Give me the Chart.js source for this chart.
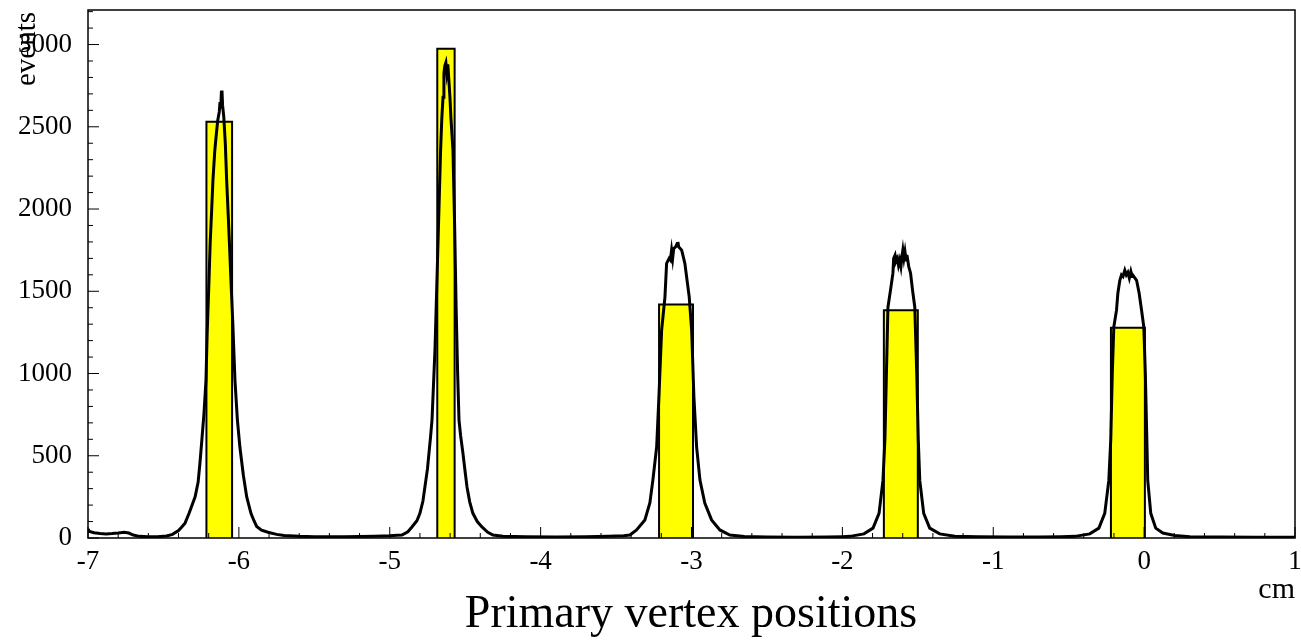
<!DOCTYPE html>
<html>
<head>
<meta charset="utf-8">
<script src="https://cdn.jsdelivr.net/npm/chart.js@4/dist/chart.umd.min.js"></script>
<style>
    body { margin: 0; background: #fff; }
    canvas { display: block; }
</style>
</head>
<body>
<canvas id="vertexChart" width="1301" height="641"></canvas>
<script>
// fine-binned vertex distribution (cm, events)
const curveX = [
    -7.00, -6.99, -6.96, -6.92, -6.88, -6.84, -6.80, -6.76, -6.73, -6.70, -6.66, -6.60, -6.54, -6.48, -6.44, -6.40, -6.38,
    -6.357, -6.33, -6.31, -6.29, -6.27, -6.258, -6.245, -6.231, -6.218, -6.21, -6.198, -6.19, -6.18, -6.172, -6.16, -6.15,
    -6.14, -6.13, -6.125, -6.12, -6.116, -6.112, -6.108, -6.10, -6.09, -6.081, -6.07, -6.062, -6.054, -6.04, -6.026, -6.01,
    -5.993, -5.97, -5.948, -5.92, -5.90, -5.882, -5.85, -5.807, -5.75, -5.70, -5.60, -5.50, -5.40, -5.30, -5.20, -5.10,
    -5.00, -4.95, -4.919, -4.88, -4.853, -4.82, -4.80, -4.78, -4.767, -4.75, -4.74, -4.73, -4.72, -4.70, -4.68, -4.663,
    -4.655, -4.647, -4.641, -4.635, -4.628, -4.622, -4.615, -4.608, -4.601, -4.595, -4.588, -4.581, -4.57, -4.56, -4.55,
    -4.541, -4.53, -4.515, -4.50, -4.488, -4.47, -4.449, -4.42, -4.389, -4.35, -4.316, -4.25, -4.10, -3.90, -3.70, -3.55,
    -3.45, -3.408, -3.364, -3.309, -3.276, -3.256, -3.231, -3.216, -3.198, -3.176, -3.165, -3.148, -3.140, -3.132, -3.125,
    -3.118, -3.105, -3.095, -3.090, -3.085, -3.075, -3.065, -3.044, -3.015, -2.999, -2.984, -2.966, -2.944, -2.912, -2.867,
    -2.812, -2.746, -2.65, -2.50, -2.30, -2.10, -2.00, -1.950, -1.857, -1.797, -1.757, -1.731, -1.718, -1.708, -1.698,
    -1.681, -1.665, -1.660, -1.651, -1.645, -1.635, -1.628, -1.62, -1.612, -1.605, -1.599, -1.592, -1.585, -1.578, -1.572,
    -1.56, -1.548, -1.535, -1.520, -1.507, -1.497, -1.487, -1.461, -1.421, -1.355, -1.255, -1.10, -0.90, -0.70, -0.55,
    -0.459, -0.360, -0.300, -0.261, -0.234, -0.221, -0.211, -0.201, -0.183, -0.174, -0.161, -0.150, -0.140, -0.128, -0.118,
    -0.108, -0.098, -0.088, -0.080, -0.075, -0.050, -0.033, -0.017, -0.002, 0.008, 0.018, 0.024, 0.044, 0.077, 0.124,
    0.203, 0.303, 0.50, 0.75, 1.00
];
const curveY = [
    55, 40, 32, 28, 25, 27, 30, 35, 30, 18, 10, 8, 8, 12, 22, 45, 65,
    90, 150, 200, 250, 340, 456, 600, 760, 960, 1250, 1567, 1800, 2000, 2175, 2350, 2450,
    2540, 2590, 2650, 2610, 2710, 2720, 2630, 2560, 2400, 2175, 1950, 1780, 1600, 1300, 960, 720,
    550, 380, 250, 150, 105, 70, 48, 35, 22, 15, 10, 8, 7, 8, 9, 11,
    13, 16, 18, 38, 67, 105, 150, 225, 310, 420, 516, 610, 717, 1150, 1800, 2357,
    2550, 2680, 2825, 2870, 2890, 2830, 2880, 2780, 2680, 2560, 2460, 2357, 1900, 1400, 1000,
    717, 620, 516, 400, 310, 220, 150, 100, 67, 35, 18, 10, 7, 6, 7, 10,
    14, 18, 49, 110, 213, 352, 553, 857, 1264, 1465, 1670, 1700, 1690, 1750, 1700,
    1760, 1770, 1790, 1800, 1770, 1760, 1750, 1670, 1465, 1264, 857, 553, 352, 213, 110,
    49, 18, 9, 6, 5, 6, 8, 10, 25, 60, 150, 350, 600, 1000, 1403,
    1507, 1610, 1700, 1719, 1680, 1700, 1659, 1690, 1650, 1710, 1750, 1700, 1740, 1690, 1720,
    1650, 1610, 1507, 1403, 1000, 600, 350, 150, 60, 25, 10, 7, 6, 6, 8,
    10, 25, 60, 150, 350, 600, 1000, 1282, 1385, 1488, 1567, 1600, 1590, 1628, 1600,
    1615, 1580, 1620, 1590, 1598, 1567, 1488, 1385, 1282, 1000, 600, 350, 150, 60, 30,
    15, 8, 6, 5, 5
];

// yellow blocks: left edge, right edge (cm) and height (events)
const blockLeft = [-6.215, -4.685, -3.215, -1.725, -0.22];
const blockRight = [-6.045, -4.57, -2.99, -1.50, 0.005];
const blockHeight = [2530, 2975, 1420, 1385, 1278];

const xTicks = [-7, -6, -5, -4, -3, -2, -1, 0, 1];
const yTicks = [0, 500, 1000, 1500, 2000, 2500, 3000];

const serif = "'Liberation Serif', 'Times New Roman', serif";

const datasets = [{
    data: curveX.map((x, i) => ({ x: x, y: curveY[i] })),
    borderColor: "#000",
    borderWidth: 3,
    pointRadius: 0,
    tension: 0,
    fill: false,
    order: 0
}];
blockLeft.forEach((l, i) => {
    const r = blockRight[i], h = blockHeight[i];
    datasets.push({
        data: [{ x: l, y: 0 }, { x: l, y: h }, { x: r, y: h }, { x: r, y: 0 }],
        borderColor: "#000",
        borderWidth: 2,
        backgroundColor: "#ffff00",
        fill: "origin",
        pointRadius: 0,
        tension: 0,
        order: 1
    });
});

// ROOT-like frame, inward ticks and the text around the pad
const framePlugin = {
    id: "frame",
    afterDraw(chart) {
        const { ctx, chartArea: a, scales } = chart;
        ctx.save();
        ctx.strokeStyle = "#000";
        ctx.lineWidth = 1.5;
        ctx.strokeRect(a.left, a.top, a.right - a.left, a.bottom - a.top);

        ctx.lineWidth = 1;
        ctx.beginPath();
        for (let k = 0; k <= 40; k++) {
            const v = -7 + k * 0.2;
            const px = scales.x.getPixelForValue(v);
            const len = k % 5 === 0 ? 11 : 5;
            ctx.moveTo(px, a.bottom);
            ctx.lineTo(px, a.bottom - len);
        }
        for (let v = 0; v <= 3200; v += 100) {
            const py = scales.y.getPixelForValue(v);
            const len = v % 500 === 0 ? 11 : 5;
            ctx.moveTo(a.left, py);
            ctx.lineTo(a.left + len, py);
        }
        ctx.stroke();

        ctx.fillStyle = "#000";
        ctx.font = "46px " + serif;
        ctx.textAlign = "center";
        ctx.textBaseline = "alphabetic";
        ctx.fillText("Primary vertex positions", 691, 627);

        ctx.font = "30px " + serif;
        ctx.textAlign = "right";
        ctx.fillText("cm", a.right, 598);

        ctx.translate(35, 12);
        ctx.rotate(-Math.PI / 2);
        ctx.font = "29px " + serif;
        ctx.textAlign = "right";
        ctx.fillText("events", 0, 0);
        ctx.restore();
    }
};

new Chart(document.getElementById("vertexChart"), {
    type: "line",
    data: { datasets: datasets },
    options: {
        responsive: false,
        animation: false,
        layout: { padding: { top: 10, right: 6, left: 0, bottom: 0 } },
        plugins: { legend: { display: false }, tooltip: { enabled: false } },
        scales: {
            x: {
                type: "linear",
                min: -7,
                max: 1,
                grid: { display: false, drawTicks: false },
                border: { display: false },
                afterBuildTicks: s => { s.ticks = xTicks.map(v => ({ value: v })); },
                afterFit: s => { s.height = 103; s.paddingLeft = 0; s.paddingRight = 0; },
                ticks: {
                    color: "#000",
                    font: { family: serif, size: 27 },
                    padding: 8,
                    maxRotation: 0,
                    callback: v => String(v)
                }
            },
            y: {
                min: 0,
                max: 3210,
                grid: { display: false, drawTicks: false },
                border: { display: false },
                afterBuildTicks: s => { s.ticks = yTicks.map(v => ({ value: v })); },
                afterFit: s => { s.width = 88; s.paddingTop = 0; s.paddingBottom = 0; },
                ticks: {
                    color: "#000",
                    font: { family: serif, size: 27 },
                    padding: 16,
                    callback: v => String(v)
                }
            }
        }
    },
    plugins: [framePlugin]
});
</script>
</body>
</html>
